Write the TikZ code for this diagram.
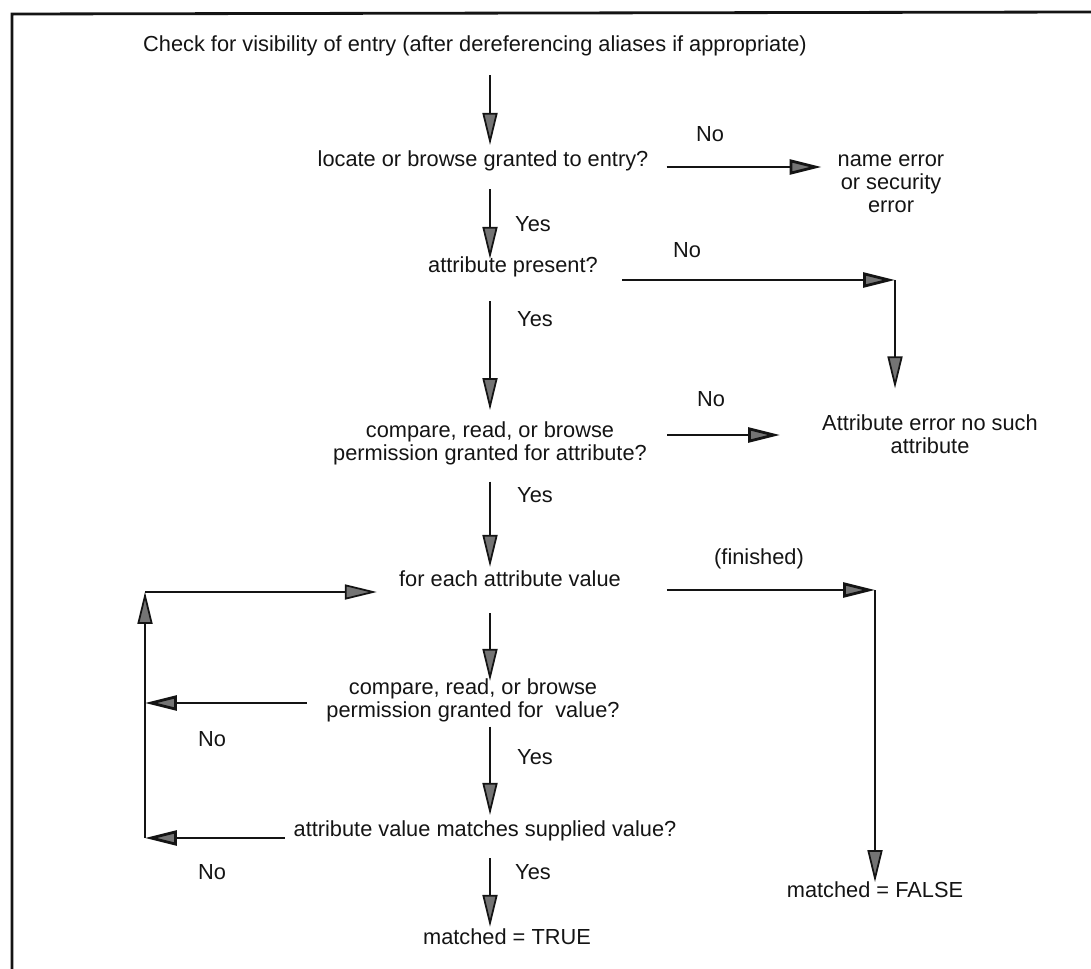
\documentclass[tikz,border=0pt]{standalone}
\usepackage{fontspec}
\setmainfont{Liberation Sans}
\usetikzlibrary{arrows.meta,calc}
\definecolor{ink}{HTML}{141414}
\definecolor{stipple}{HTML}{747474}

\begin{document}
\begin{tikzpicture}[x=0.02cm,y=-0.02cm,every node/.style={font=\fontsize{12.4}{13.2}\selectfont,text=ink,inner sep=0pt},one/.style={text height=.75em,text depth=.25em},two/.style={align=center},flow/.style={ink,line width=1pt,-{Triangle[length=6.4mm,width=3mm,fill=stipple]}},branch/.style={flow,line width=1.6pt}]
\useasboundingbox (0,0) rectangle (1091,969);
\draw[ink,line width=1.6pt] (12,969)--(12,14)--(1091,12);
% main column
\coordinate (spine) at (490,0);
\node[one] (check) at (475,47){Check for visibility of entry (after dereferencing aliases if appropriate)};
\node[one] (locate) at (483,162){locate or browse granted to entry?};
\node[one] (present) at (513,268){attribute present?};
\node[two] (cmpattr) at (490,443){compare, read, or browse\\permission granted for attribute?};
\node[one] (foreach) at (510,582){for each attribute value};
\node[two] (cmpval) at (473,700){compare, read, or browse\\permission granted for~ value?};
\node[one] (match) at (485,832){attribute value matches supplied value?};
\node[one] (true) at (507,940){matched = TRUE};
% outcomes on the right
\node[two] (nameerr) at (891,184){name error\\or security\\error};
\node[two] (attrerr) at (930,434){Attribute error no such\\attribute};
\node[one] (false) at (875,893){matched = FALSE};
% branch labels
\node[one] (yes1) at (533,227){Yes};\node[one] (yes2) at (535,322){Yes};\node[one] (yes3) at (535,498){Yes};
\node[one] (yes4) at (535,760){Yes};\node[one] (yes5) at (533,875){Yes};
\node[one] (no1) at (710,137){No};\node[one] (no2) at (687,253){No};\node[one] (no3) at (711,402){No};
\node[one] (no4) at (212,742){No};\node[one] (no5) at (212,875){No};
\node[one] (fin) at (759,560){(finished)};
\coordinate (bendA) at (895,280);\coordinate (bendB) at (875,590);
\coordinate (looptop) at (145,592);\coordinate (loopbot) at (145,838);
% downward arrows
\draw[flow,shorten <=10.8pt,shorten >=4.5pt] (check.south -| spine)--(locate.north -| spine);
\draw[flow,shorten <=10.2pt] (locate.south -| spine)--(present.north -| spine);
\draw[flow,shorten <=13.6pt,shorten >=6.2pt] (present.south -| spine)--(cmpattr.north -| spine);
\draw[flow,shorten <=9.4pt,shorten >=3.4pt] (cmpattr.south -| spine)--(foreach.north -| spine);
\draw[flow,shorten <=12.5pt,shorten >=-1.7pt] (foreach.south -| spine)--(cmpval.north -| spine);
\draw[flow,shorten <=2.5pt,shorten >=4.5pt] (cmpval.south -| spine)--(match.north -| spine);
\draw[flow,shorten <=9.6pt,shorten >=2.3pt] (match.south -| spine)--(true.north -| spine);
% No / finished exits
\draw[branch,shorten <=10.2pt,shorten >=9pt] ($(locate.east)+(0,5)$)--($(locate.east -| nameerr.west)+(0,5)$);
\draw[branch,shorten <=13.6pt] ($(present.east)+(0,12)$)--(bendA);
\draw[flow,shorten >=14.6pt] (bendA)--(bendA |- attrerr.north);
\draw[branch,shorten <=11.3pt,shorten >=23.8pt] ($(cmpattr.east)+(0,-8)$)--($(cmpattr.east -| attrerr.west)+(0,-8)$);
\draw[branch,shorten <=26pt] ($(foreach.east)+(0,8)$)--(bendB);
\draw[flow,shorten >=1pt] (bendB)--(bendB |- false.north);
% loop back to the next value
\draw[branch,shorten <=11pt] ($(cmpval.west)+(0,3)$)--($(cmpval.west -| looptop)+(0,3)$);
\draw[branch,shorten <=5pt] ($(match.west)+(0,6)$)--(loopbot);
\draw[flow] (loopbot)--(looptop);
\draw[flow,shorten >=12.5pt] (looptop)--(looptop -| foreach.west);
\end{tikzpicture}
\end{document}
